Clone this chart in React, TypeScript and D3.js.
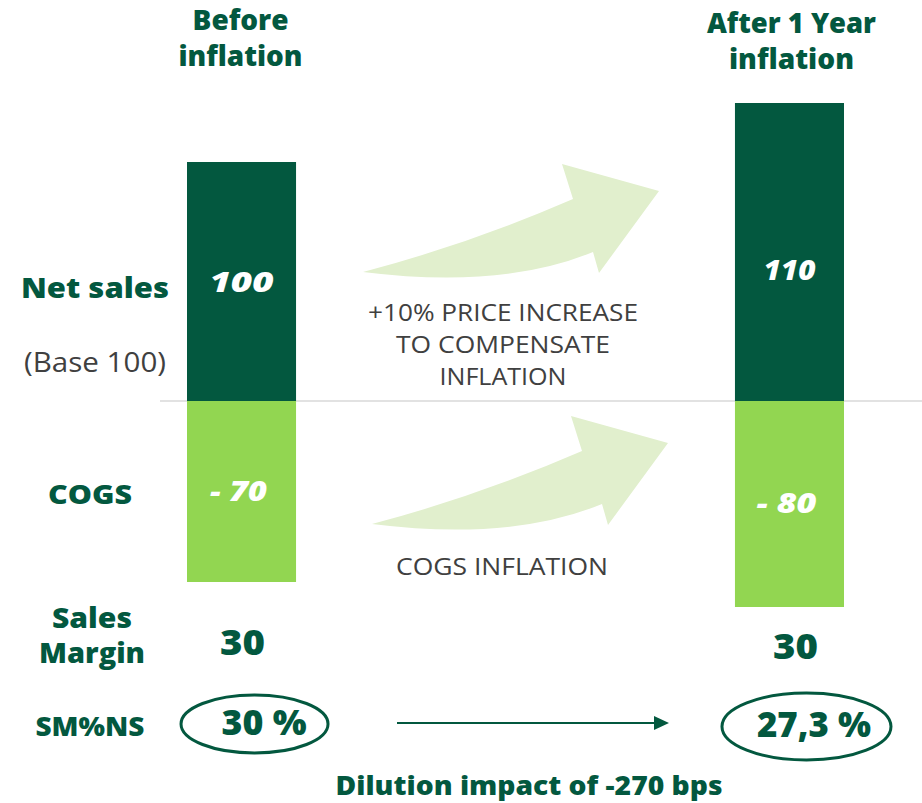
import React from "react";
import * as d3 from "d3";

// ---- data ----
const columns = ["Before inflation", "After 1 Year inflation"];
const columnTitles = [
  ["Before", "inflation"],
  ["After 1 Year", "inflation"],
];
const netSales = [100, 110];
const cogs = [-70, -80];
const netSalesLabels = ["100", "110"];
const cogsLabels = ["- 70", "- 80"];
const salesMargin = [30, 30];
const smPercent = ["30 %", "27,3 %"];
const rowLabels = ["Net sales", "COGS", "Sales", "Margin", "SM%NS"];
const baseLabel = "(Base 100)";
const priceNote = ["+10% PRICE INCREASE", "TO COMPENSATE", "INFLATION"];
const cogsNote = ["COGS INFLATION"];
const dilutionNote = "Dilution impact of -270 bps";

const DARK = "#03583f";
const LIGHT = "#92d651";
const ARROW = "#e1efcd";
const GRAY = "#404040";
const FONT = "'Open Sans', 'DejaVu Sans', sans-serif";

const W = 922;
const H = 803;

export default function App() {
  const x = d3.scaleBand<string>().domain(columns).range([187, 844]).paddingInner(0.801).paddingOuter(0);
  // piecewise scale following the picture's bar heights
  const y = d3
    .scaleLinear()
    .domain([d3.min(cogs)!, d3.max(cogs)!, 0, d3.min(netSales)!, d3.max(netSales)!])
    .range([607, 582, 401, 162, 103]);
  const bw = x.bandwidth();
  const cx = (i: number) => (x(columns[i]) as number) + bw / 2;

  // curved block arrow (local coordinates, tail at origin)
  const arrowPath = (() => {
    const p = d3.path();
    p.moveTo(0, 0);
    p.quadraticCurveTo(105, -27.5, 210, -73);
    p.lineTo(199, -108);
    p.lineTo(296, -81);
    p.lineTo(236, 1);
    p.lineTo(230, -20);
    p.quadraticCurveTo(139, 17.5, 0, 0);
    p.closePath();
    return p.toString();
  })();

  const ellipseOffset = [13, 17];
  const ellipseR = [
    [73.5, 29],
    [84.5, 33.5],
  ];
  const ellipseCy = [724, 726.5];
  const pctOffset = [22.5, 24.5];
  const pctLen = [85, 114];
  const titleLens = [
    [96, 124],
    [169, 125],
  ];
  const marginY = [655, 659];

  const T = (props: any) => (
    <text
      fontFamily={FONT}
      textAnchor="middle"
      lengthAdjust="spacingAndGlyphs"
      {...props}
    />
  );

  return (
    <svg width={W} height={H} style={{ position: "absolute", left: 0, top: 0, background: "#fff" }}>
      {/* baseline */}
      <line x1={160} x2={922} y1={y(0)} y2={y(0)} stroke="#d9d9d9" strokeWidth={1.5} />

      {/* arrows */}
      <path d={arrowPath} transform="translate(363,272)" fill={ARROW} />
      <path d={arrowPath} transform="translate(372,524)" fill={ARROW} />

      {/* bars */}
      {columns.map((c, i) => (
        <g key={c}>
          <rect x={x(c)} width={bw} y={y(netSales[i])} height={y(0) - y(netSales[i])} fill={DARK} />
          <rect x={x(c)} width={bw} y={y(0)} height={y(cogs[i]) - y(0)} fill={LIGHT} />
          <T
            x={cx(i)}
            y={y(netSales[i] / 2) + 10}
            fill="#fff"
            fontWeight={800}
            fontStyle="italic"
            fontSize={29}
            textLength={i === 0 ? 64 : 52}
          >
            {netSalesLabels[i]}
          </T>
          <T
            x={cx(i) - 3}
            y={y(cogs[i] / 2) + 9}
            fill="#fff"
            fontWeight={800}
            fontStyle="italic"
            fontSize={28}
            textLength={i === 0 ? 57 : 60}
          >
            {cogsLabels[i]}
          </T>
          {columnTitles[i].map((t, j) => (
            <T key={j} x={cx(i) + (i === 0 ? -1 : 2)} y={(i === 0 ? 30 : 33) + j * 35.5} fill={DARK} fontWeight={800} fontSize={28} textLength={titleLens[i][j]}>
              {t}
            </T>
          ))}
          <T x={cx(i) + (i === 0 ? 1 : 6)} y={marginY[i]} fill={DARK} fontWeight={800} fontSize={36} textLength={45}>
            {salesMargin[i]}
          </T>
          <ellipse
            cx={cx(i) + ellipseOffset[i]}
            cy={ellipseCy[i]}
            rx={ellipseR[i][0]}
            ry={ellipseR[i][1]}
            fill="none"
            stroke={DARK}
            strokeWidth={3}
          />
          <T x={cx(i) + pctOffset[i]} y={i === 0 ? 735 : 737} fill={DARK} fontWeight={800} fontSize={36} textLength={pctLen[i]}>
            {smPercent[i]}
          </T>
        </g>
      ))}

      {/* row labels */}
      <T x={95} y={298} fill={DARK} fontWeight={800} fontSize={29} textLength={148}>{rowLabels[0]}</T>
      <T x={95} y={372} fill={GRAY} fontWeight={400} fontSize={27} textLength={142}>{baseLabel}</T>
      <T x={90} y={504} fill={DARK} fontWeight={800} fontSize={26} textLength={84}>{rowLabels[1]}</T>
      <T x={92} y={628} fill={DARK} fontWeight={800} fontSize={28} textLength={80}>{rowLabels[2]}</T>
      <T x={92} y={663} fill={DARK} fontWeight={800} fontSize={28} textLength={106}>{rowLabels[3]}</T>
      <T x={90} y={736} fill={DARK} fontWeight={800} fontSize={26} textLength={109}>{rowLabels[4]}</T>

      {/* notes */}
      {priceNote.map((t, j) => (
        <T key={t} x={503} y={321 + j * 32} fill={GRAY} fontWeight={400} fontSize={24} textLength={[270, 214, 127][j]}>
          {t}
        </T>
      ))}
      <T x={502} y={575} fill={GRAY} fontWeight={400} fontSize={24} textLength={212}>{cogsNote[0]}</T>

      {/* dilution arrow */}
      <line x1={397} x2={656} y1={723} y2={723} stroke={DARK} strokeWidth={2} />
      <path d="M654,716 L669,723 L654,730 Z" fill={DARK} />
      <T x={529} y={795} fill={DARK} fontWeight={800} fontSize={26} textLength={387}>{dilutionNote}</T>
    </svg>
  );
}
